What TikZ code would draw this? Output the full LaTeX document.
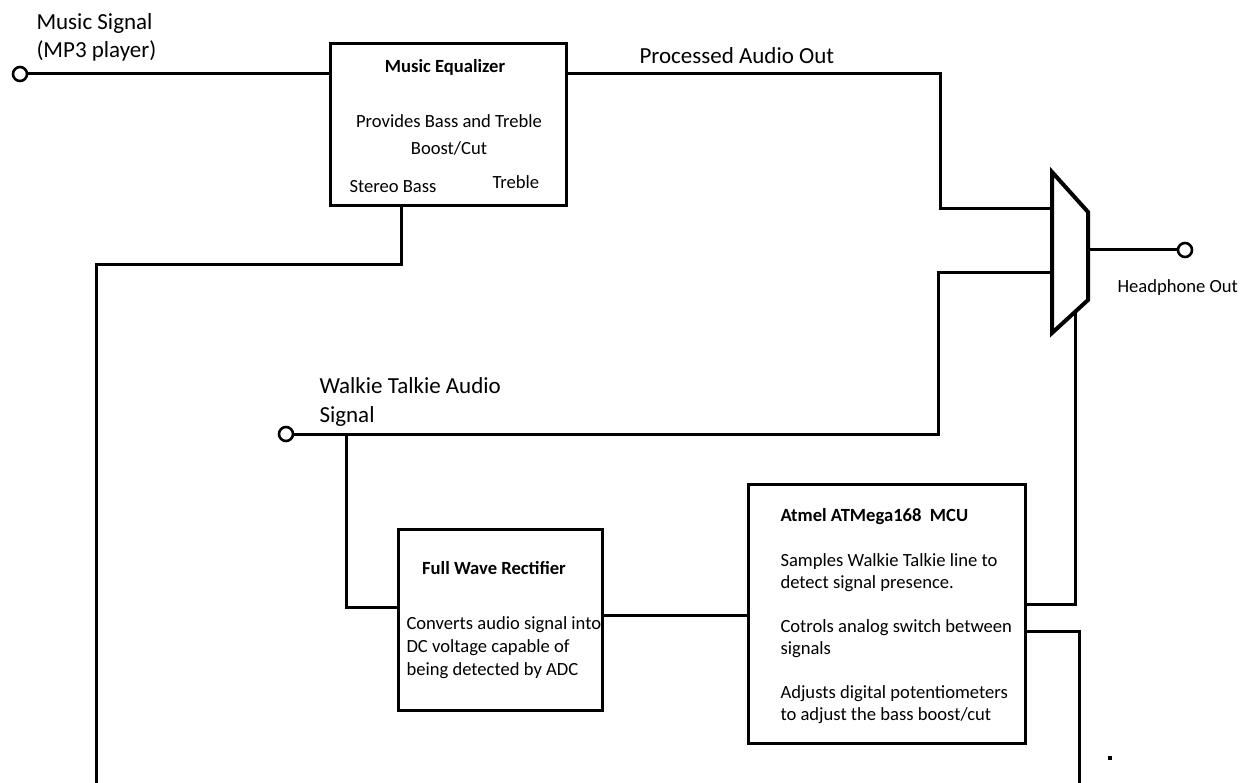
\documentclass[tikz,border=0pt]{standalone}
\usepackage{fontspec}
\setmainfont{Carlito}
\begin{document}
\begin{tikzpicture}[x=1pt,y=-1pt,line width=3pt,
  blk/.style={draw,line width=3pt,minimum width=#1,inner sep=0pt},
  term/.style={draw,circle,line width=2.6pt,minimum size=14pt,inner sep=0pt,fill=white},
  big/.style={font=\fontsize{23}{27}\selectfont,anchor=base west,inner sep=0pt},
  sm/.style={font=\fontsize{18.6}{22}\selectfont,anchor=base west,inner sep=0pt},
  smc/.style={font=\fontsize{18.6}{22}\selectfont,anchor=base,inner sep=0pt},
  wire/.style={line width=3pt,line join=miter}]
\useasboundingbox (0,0) rectangle (1245,783);
% blocks
\node[blk=236pt,minimum height=162pt] (eq) at (448,125) {};
\node[blk=204pt,minimum height=181pt] (rect) at (500,619.5) {};
\node[blk=277pt,minimum height=259pt] (mcu) at (886.5,613.5) {};
% mux
\coordinate (mTL) at (1052,172);
\coordinate (mBL) at (1052,333);
\coordinate (mTR) at (1088,212);
\coordinate (mBR) at (1088,300);
\draw[line width=4pt,line join=miter] (mTL) -- (mTR) -- (mBR) -- (mBL) -- cycle;
\coordinate (mIn1) at (1052,209);
\coordinate (mIn2) at (1052,273);
\coordinate (mOut) at (1088,250);
\coordinate (mSel) at (1075,312);
% terminals
\node[term] (musicin) at (20,74) {};
\node[term] (walkin) at (286,434) {};
\node[term] (hpout) at (1185,250) {};
% texts
\node[big] (t1) at (35,30) {Music Signal};
\node[big] (t2) at (35,58) {(MP3 player)};
\node[big] (t3) at (638,64) {Processed Audio Out};
\node[big] (t4) at (318,394) {Walkie Talkie Audio};
\node[big] (t5) at (318,422) {Signal};
\node[smc,font=\fontsize{18.6}{22}\selectfont\bfseries] (eqt) at (445,73) {Music Equalizer};
\node[smc] (eq1) at (449,128) {Provides Bass and Treble};
\node[smc] (eq2) at (449,155) {Boost/Cut};
\node[sm] (eq3) at (348,193) {Stereo Bass};
\node[sm] (eq4) at (491,189) {Treble};
\node[sm] (hpt) at (1116,293) {Headphone Out};
\node[smc,font=\fontsize{18.6}{22}\selectfont\bfseries] (rt) at (494,574) {Full Wave Rectifier};
\node[sm] (r1) at (405,629) {Converts audio signal into};
\node[sm] (r2) at (405,652) {DC voltage capable of};
\node[sm] (r3) at (405,675) {being detected by ADC};
\node[sm,font=\fontsize{18.6}{22}\selectfont\bfseries] (mt) at (779,521) {Atmel ATMega168\ \ MCU};
\node[sm] (m1) at (779,566) {Samples Walkie Talkie line to};
\node[sm] (m2) at (779,588) {detect signal presence.};
\node[sm] (m3) at (779,632) {Cotrols analog switch between};
\node[sm] (m4) at (779,654) {signals};
\node[sm] (m5) at (779,698) {Adjusts digital potentiometers};
\node[sm] (m6) at (779,720) {to adjust the bass boost/cut};
% wires
\coordinate (eqbot) at (401,206);
\coordinate (bl) at (96,783);
\coordinate (br) at (1079,783);
\draw[wire] (musicin.east) -- (musicin.east -| eq.west);
\draw[wire] (eq.east |- musicin) -- (940,74) -- (940,209) -- (mIn1);
\draw[wire] (eqbot) -- (401,265) -- (96,265) -- (bl);
\draw[wire] (mIn2) -- (938,273) -- (938,434) -- (walkin.east);
\draw[wire] (346,434) -- (346,607) -- (346,607 -| rect.west);
\draw[wire] (rect.east |- 0,615) -- (mcu.west |- 0,615);
\draw[wire] (mcu.east |- 0,604) -- (1075,604) -- (mSel);
\draw[wire] (mcu.east |- 0,631) -- (1079,631) -- (br);
\draw[wire] (mOut) -- (hpout.west);
\fill (1108,756) rectangle (1112,760);
\end{tikzpicture}
\end{document}
